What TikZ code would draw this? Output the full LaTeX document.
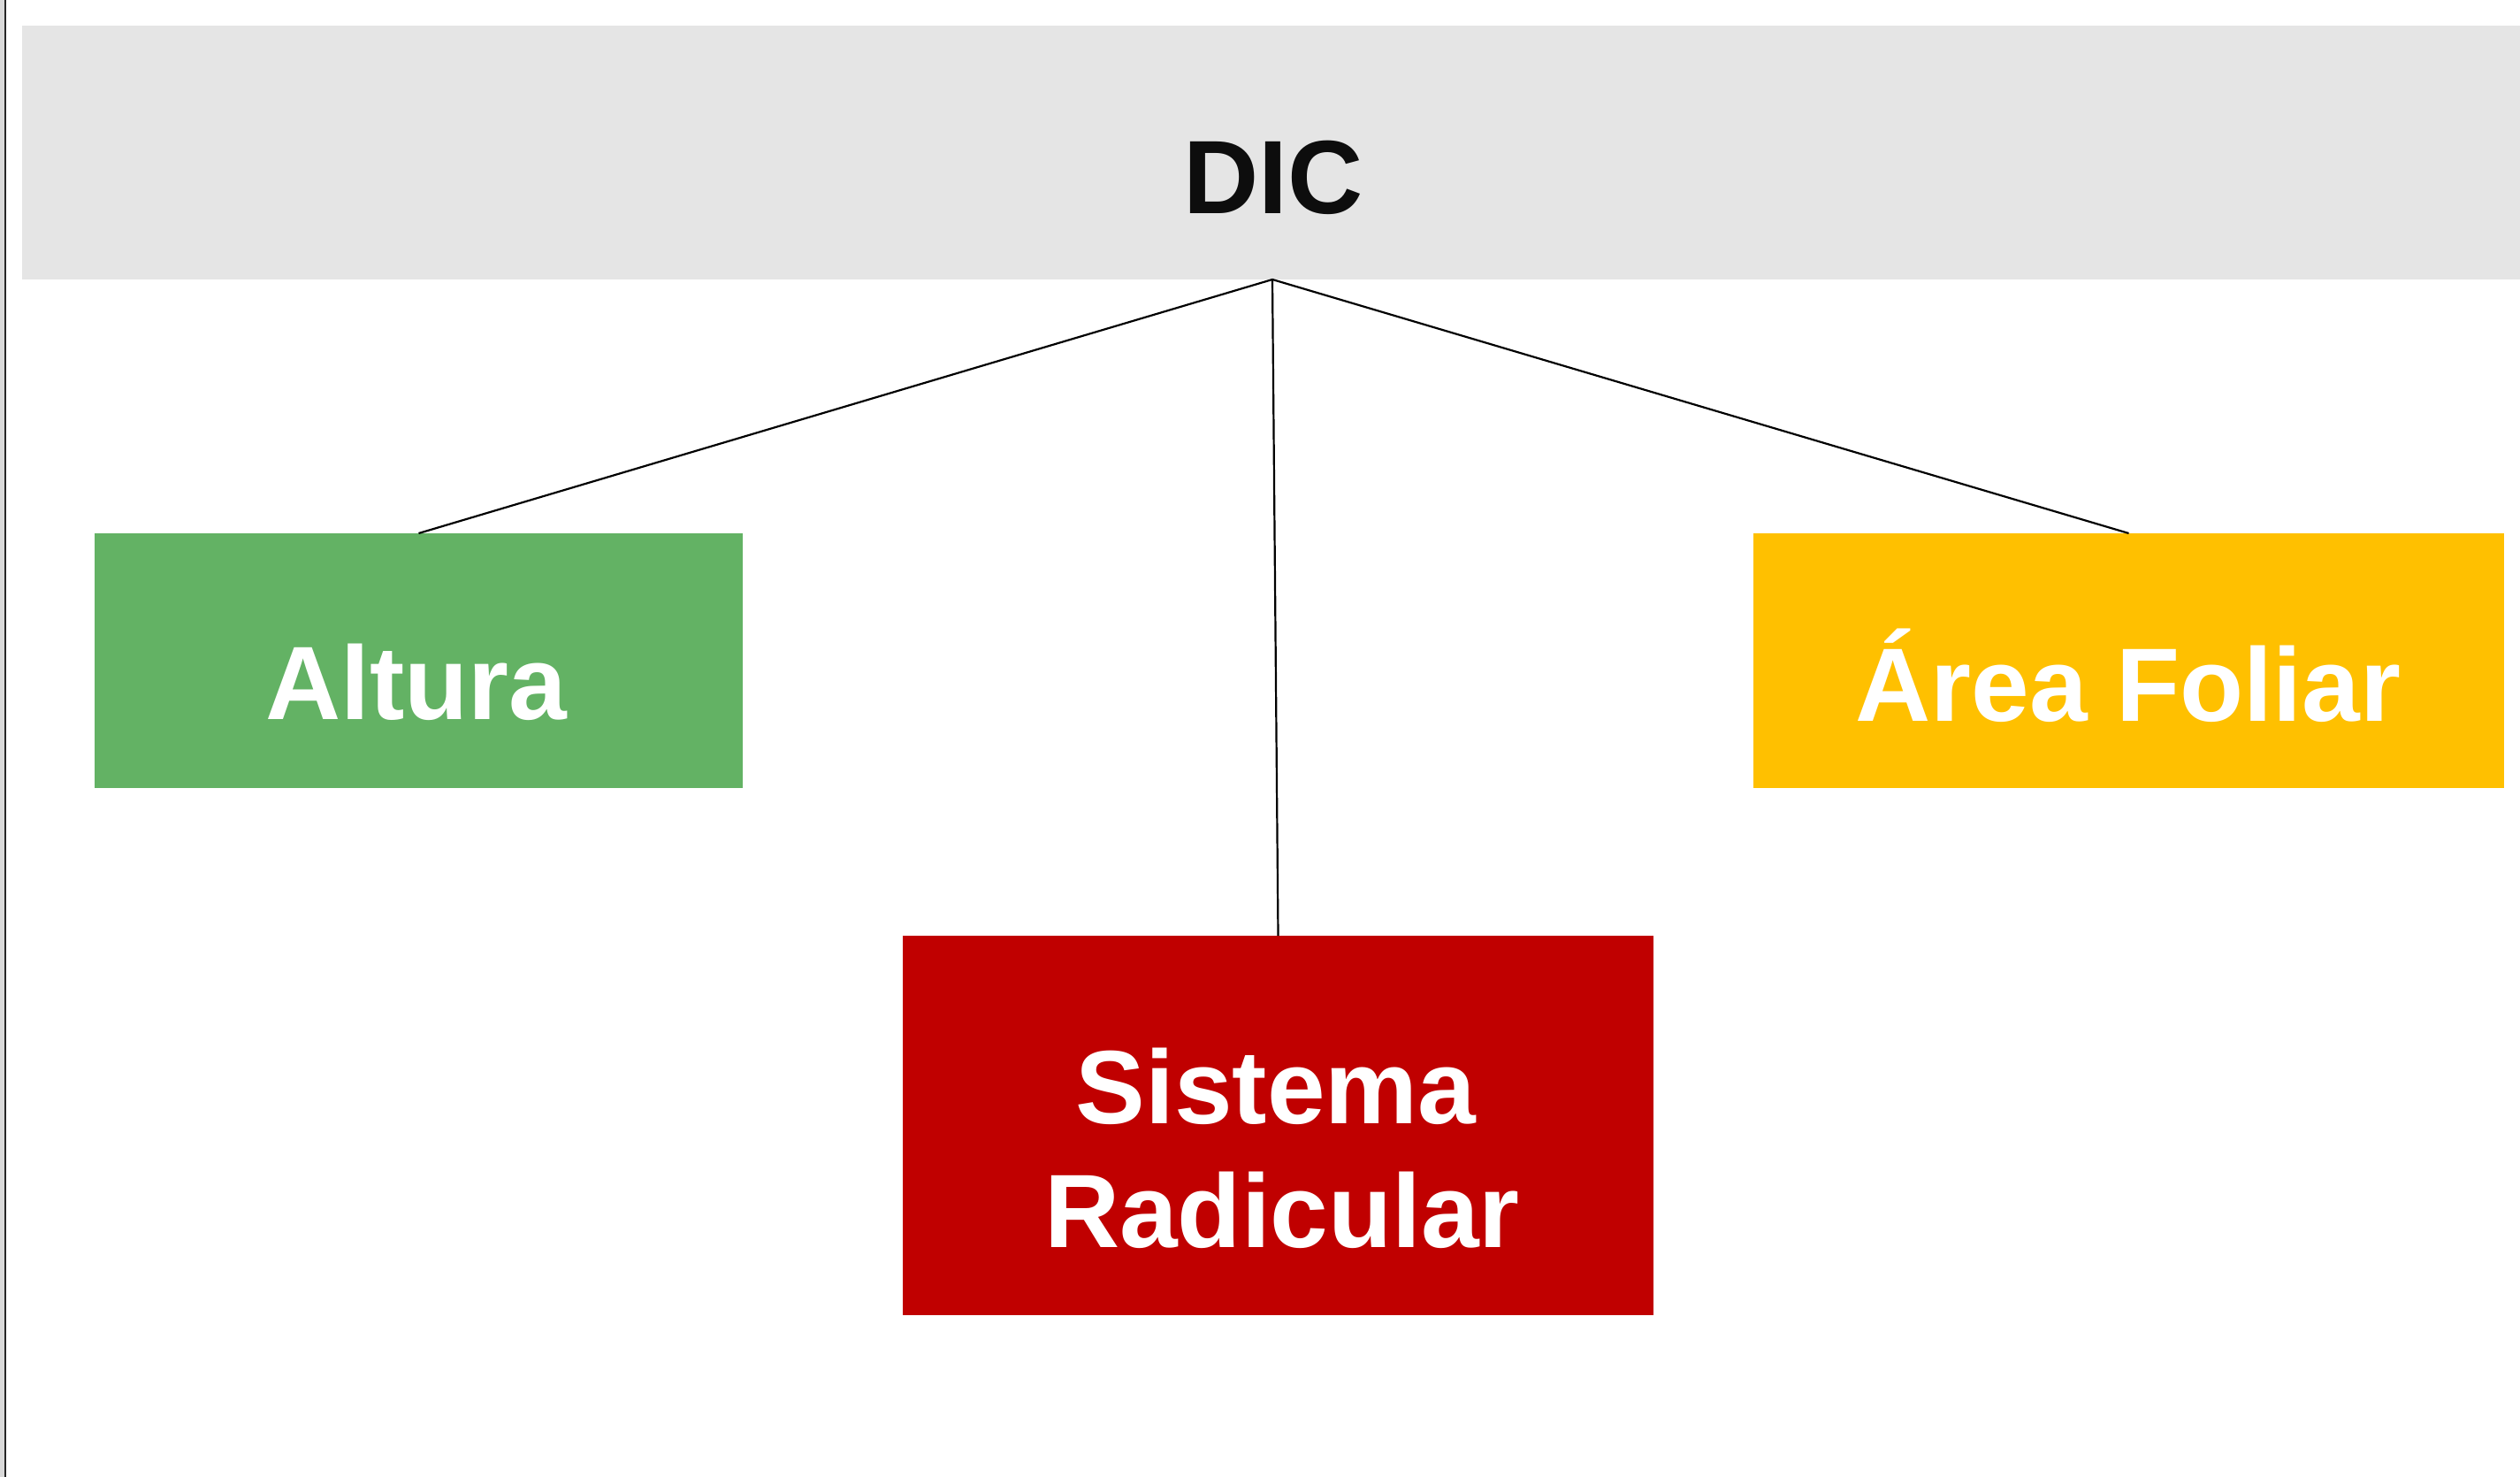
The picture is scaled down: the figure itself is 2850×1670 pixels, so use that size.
\documentclass[tikz,border=0pt]{standalone}
\usepackage{fontspec}
\setmainfont{Liberation Sans}
\definecolor{hdrgray}{HTML}{E5E5E5}
\definecolor{edgegray}{HTML}{D9D9D9}
\definecolor{boxgreen}{HTML}{63B264}
\definecolor{boxyellow}{HTML}{FFC000}
\definecolor{boxred}{HTML}{C00000}
\definecolor{txtdark}{HTML}{0D0D0D}
\tikzset{
  box/.style={rectangle, draw=none, inner sep=0pt, outer sep=0pt},
  lbl/.style={inner sep=0pt, outer sep=0pt, anchor=base, font=\fontsize{29.5}{35}\selectfont\bfseries},
  conn/.style={draw=black, line width=0.55pt}
}
\begin{document}
\begin{tikzpicture}[x=0.25pt,y=-0.25pt]
\useasboundingbox (0,0) rectangle (2850,1670);
\fill[white] (0,0) rectangle (2850,1670);
% left page edge
\fill[edgegray] (0,0) rectangle (5,1670);
\fill[black!85] (5,0) rectangle (7,1670);
% boxes
\node[box, fill=hdrgray, minimum width=2825*0.25pt, minimum height=287*0.25pt] (dic) at (1437.5,172.5) {};
\node[box, fill=boxgreen, minimum width=733*0.25pt, minimum height=288*0.25pt] (alt) at (473.5,747) {};
\node[box, fill=boxyellow, minimum width=849*0.25pt, minimum height=288*0.25pt] (area) at (2407.5,747) {};
\node[box, fill=boxred, minimum width=849*0.25pt, minimum height=429*0.25pt] (sis) at (1445.5,1272.5) {};
% labels
\node[lbl, text=txtdark] (dict) at (1440,241) {DIC};
\node[lbl, text=white] (altt) at (471,813) {Altura};
\node[lbl, text=white] (areat) at (2407,815) {Área Foliar};
\node[lbl, text=white] (sist1) at (1443,1270) {Sistema};
\node[lbl, text=white] (sist2) at (1450,1410) {Radicular};
% connectors
\coordinate (apex) at (1439,316);
\draw[conn] (apex) -- (alt.north);
\draw[conn] (apex) -- (sis.north);
\draw[conn] (apex) -- (area.north);
\end{tikzpicture}
\end{document}
